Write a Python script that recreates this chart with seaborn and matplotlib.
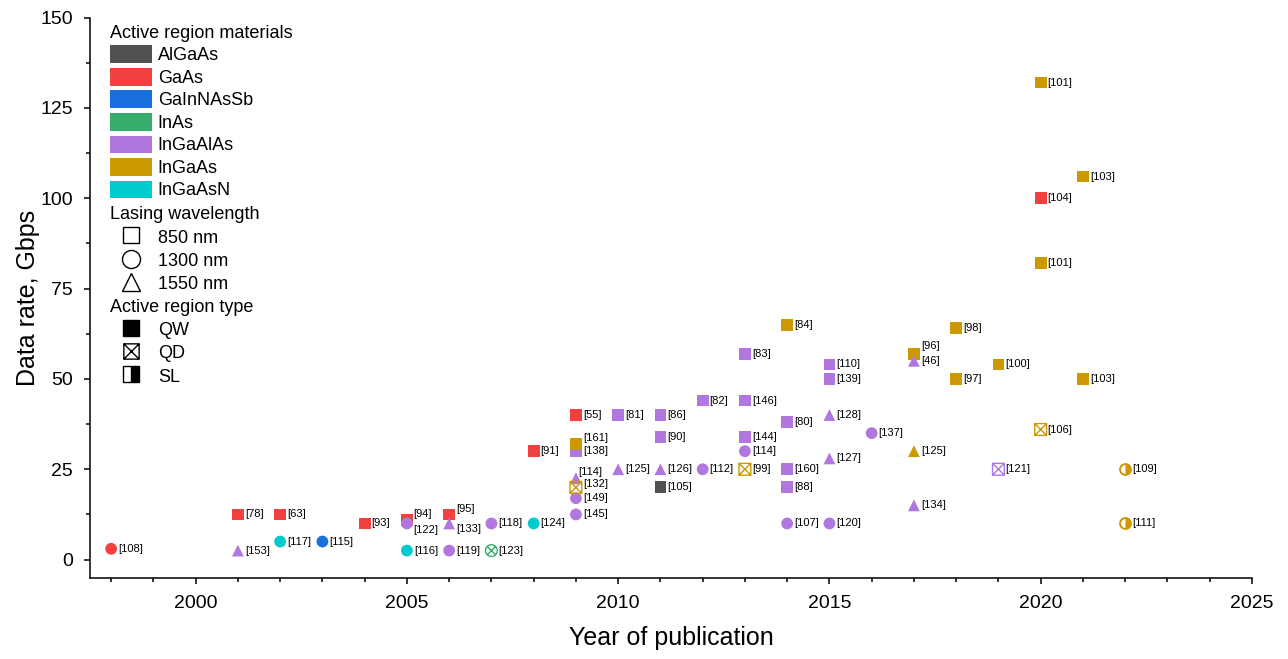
import numpy as np
import pandas as pd
import matplotlib
matplotlib.use("Agg")
import matplotlib.pyplot as plt
from matplotlib.path import Path
from matplotlib.markers import MarkerStyle
from matplotlib.patches import Patch
from matplotlib.lines import Line2D
from matplotlib.ticker import MultipleLocator
import seaborn as sns

# ---------------- data ----------------
years = [1998, 2001, 2001, 2002, 2002, 2003, 2004, 2005, 2005, 2005,
         2006, 2006, 2006, 2007, 2007, 2008, 2008, 2009, 2009, 2009,
         2009, 2009, 2009, 2009, 2010, 2010, 2011, 2011, 2011, 2011,
         2012, 2012, 2013, 2013, 2013, 2013, 2013, 2014, 2014, 2014,
         2014, 2014, 2015, 2015, 2015, 2015, 2015, 2016, 2017, 2017,
         2017, 2017, 2018, 2018, 2019, 2019, 2020, 2020, 2020, 2020,
         2021, 2021, 2022, 2022]
rates = [3, 12.5, 2.5, 12.5, 5, 5, 10, 11, 10, 2.5,
         12.5, 10, 2.5, 10, 2.5, 10, 30, 40, 30, 32,
         22.5, 20, 17, 12.5, 40, 25, 40, 34, 25, 20,
         44, 25, 57, 44, 34, 30, 25, 65, 38, 25,
         20, 10, 54, 50, 40, 28, 10, 35, 57, 55,
         30, 15, 64, 50, 54, 25, 132, 100, 82, 36,
         106, 50, 25, 10]
materials = ["GaAs", "GaAs", "InGaAlAs", "GaAs", "InGaAsN", "GaInNAsSb", "GaAs", "GaAs", "InGaAlAs", "InGaAsN",
             "GaAs", "InGaAlAs", "InGaAlAs", "InGaAlAs", "InAs", "InGaAsN", "GaAs", "GaAs", "InGaAlAs", "InGaAs",
             "InGaAlAs", "InGaAs", "InGaAlAs", "InGaAlAs", "InGaAlAs", "InGaAlAs", "InGaAlAs", "InGaAlAs", "InGaAlAs", "AlGaAs",
             "InGaAlAs", "InGaAlAs", "InGaAlAs", "InGaAlAs", "InGaAlAs", "InGaAlAs", "InGaAs", "InGaAs", "InGaAlAs", "InGaAlAs",
             "InGaAlAs", "InGaAlAs", "InGaAlAs", "InGaAlAs", "InGaAlAs", "InGaAlAs", "InGaAlAs", "InGaAlAs", "InGaAs", "InGaAlAs",
             "InGaAs", "InGaAlAs", "InGaAs", "InGaAs", "InGaAs", "InGaAlAs", "InGaAs", "GaAs", "InGaAs", "InGaAs",
             "InGaAs", "InGaAs", "InGaAs", "InGaAs"]
wavelengths = ["1300 nm", "850 nm", "1550 nm", "850 nm", "1300 nm", "1300 nm", "850 nm", "850 nm", "1300 nm", "1300 nm",
               "850 nm", "1550 nm", "1300 nm", "1300 nm", "1300 nm", "1300 nm", "850 nm", "850 nm", "850 nm", "850 nm",
               "1550 nm", "850 nm", "1300 nm", "1300 nm", "850 nm", "1550 nm", "850 nm", "850 nm", "1550 nm", "850 nm",
               "850 nm", "1300 nm", "850 nm", "850 nm", "850 nm", "1300 nm", "850 nm", "850 nm", "850 nm", "850 nm",
               "850 nm", "1300 nm", "850 nm", "850 nm", "1550 nm", "1550 nm", "1300 nm", "1300 nm", "850 nm", "1550 nm",
               "1550 nm", "1550 nm", "850 nm", "850 nm", "850 nm", "850 nm", "850 nm", "850 nm", "850 nm", "850 nm",
               "850 nm", "850 nm", "1300 nm", "1300 nm"]
region_types = ["QW", "QW", "QW", "QW", "QW", "QW", "QW", "QW", "QW", "QW",
                "QW", "QW", "QW", "QW", "QD", "QW", "QW", "QW", "QW", "QW",
                "QW", "QD", "QW", "QW", "QW", "QW", "QW", "QW", "QW", "QW",
                "QW", "QW", "QW", "QW", "QW", "QW", "QD", "QW", "QW", "QW",
                "QW", "QW", "QW", "QW", "QW", "QW", "QW", "QW", "QW", "QW",
                "QW", "QW", "QW", "QW", "QW", "QD", "QW", "QW", "QW", "QD",
                "QW", "QW", "SL", "SL"]
refs = ["[108]", "[78]", "[153]", "[63]", "[117]", "[115]", "[93]", "[94]", "[122]", "[116]",
        "[95]", "[133]", "[119]", "[118]", "[123]", "[124]", "[91]", "[55]", "[138]", "[161]",
        "[114]", "[132]", "[149]", "[145]", "[81]", "[125]", "[86]", "[90]", "[126]", "[105]",
        "[82]", "[112]", "[83]", "[146]", "[144]", "[114]", "[99]", "[84]", "[80]", "[160]",
        "[88]", "[107]", "[110]", "[139]", "[128]", "[127]", "[120]", "[137]", "[96]", "[46]",
        "[125]", "[134]", "[98]", "[97]", "[100]", "[121]", "[101]", "[104]", "[101]", "[106]",
        "[103]", "[103]", "[109]", "[111]"]

material_order = ["AlGaAs", "GaAs", "GaInNAsSb", "InAs", "InGaAlAs", "InGaAs", "InGaAsN"]
material_colors = ["#515151", "#F14040", "#1A6FDF", "#37AD6B", "#B177DE", "#CC9900", "#00CBCC"]
wavelength_order = ["850 nm", "1300 nm", "1550 nm"]
type_order = ["QW", "QD", "SL"]
x_ticks = [2000, 2005, 2010, 2015, 2020, 2025]
y_ticks = [0, 25, 50, 75, 100, 125, 150]

# label nudges (offset points) for crowded annotations: (ref, year) -> (dx, dy)
label_nudge = {("[94]", 2005): (4.7, 4.3), ("[122]", 2005): (4.7, -5.0),
               ("[95]", 2006): (5.0, 3.6), ("[133]", 2006): (5.0, -4.3),
               ("[161]", 2009): (5.0, 4.5), ("[114]", 2009): (1.4, 4.3),
               ("[132]", 2009): (5.0, 2.5), ("[96]", 2017): (5.5, 5.8)}

df = pd.DataFrame({"year": years, "rate": rates, "material": materials,
                   "wavelength": wavelengths, "rtype": region_types, "ref": refs})
palette = dict(zip(material_order, material_colors))

# ---------------- markers ----------------
sq_x = Path([(-1, -1), (1, -1), (1, 1), (-1, 1), (-1, -1), (-1, -1), (1, 1), (-1, 1), (1, -1)],
            [Path.MOVETO, Path.LINETO, Path.LINETO, Path.LINETO, Path.CLOSEPOLY,
             Path.MOVETO, Path.LINETO, Path.MOVETO, Path.LINETO])
d = np.sqrt(0.5)
circ_x = Path.make_compound_path(Path.unit_circle(),
                                 Path([(-d, -d), (d, d)]), Path([(-d, d), (d, -d)]))
filled_markers = {"850 nm": "s", "1300 nm": "o", "1550 nm": "^"}
qd_markers = {"850 nm": sq_x, "1300 nm": circ_x}

# ---------------- figure ----------------
sns.set_style("ticks")
plt.rcParams["font.family"] = ["Liberation Sans", "DejaVu Sans"]
plt.rcParams["axes.edgecolor"] = "black"
plt.rcParams["axes.labelcolor"] = "black"
plt.rcParams["text.color"] = "black"
plt.rcParams["xtick.color"] = "black"
plt.rcParams["ytick.color"] = "black"

fig = plt.figure(figsize=(12.88, 6.59), dpi=100)
ax = fig.add_axes([0.0699, 0.1234, 0.9021, 0.85])

S = 72
qw = df[df.rtype == "QW"]
sns.scatterplot(data=qw, x="year", y="rate", hue="material", palette=palette,
                style="wavelength", markers=filled_markers, s=S, linewidth=0,
                legend=False, ax=ax, zorder=3)

qd = df[df.rtype == "QD"]
sns.scatterplot(data=qd, x="year", y="rate", hue="material", palette=palette,
                style="wavelength", markers=qd_markers, s=S, legend=False, ax=ax, zorder=3)
coll = ax.collections[-1]
coll.set_edgecolors(coll.get_facecolors())
coll.set_facecolor("none")
coll.set_linewidth(1.0)

sl = df[df.rtype == "SL"]
gold = palette["InGaAs"]
sns.scatterplot(data=sl, x="year", y="rate", marker="o", s=S * 0.85, facecolor="white",
                edgecolor=gold, linewidth=1.4, legend=False, ax=ax, zorder=3)
sns.scatterplot(data=sl, x="year", y="rate", marker=MarkerStyle("o", fillstyle="right"),
                s=S * 0.85, color=gold, linewidth=0, legend=False, ax=ax, zorder=4)

for _, r in df.iterrows():
    dx, dy = label_nudge.get((r["ref"], r["year"]), (5.0, 0.0))
    ax.annotate(r["ref"], (r["year"], r["rate"]), xytext=(dx, dy),
                textcoords="offset points", ha="left", va="center",
                fontsize=8, color="black", zorder=5)

# ---------------- axes ----------------
ax.set_xlim(1997.5, 2025)
ax.set_ylim(-5, 150)
ax.set_xticks(x_ticks)
ax.set_yticks(y_ticks)
ax.xaxis.set_minor_locator(MultipleLocator(1))
ax.yaxis.set_minor_locator(MultipleLocator(12.5))
ax.tick_params(which="major", direction="out", length=4.5, width=1.1, labelsize=14, pad=8)
ax.tick_params(which="minor", direction="out", length=2.8, width=1.1)
ax.set_xlabel("Year of publication", fontsize=18, labelpad=10)
ax.set_ylabel("Data rate, Gbps", fontsize=18, labelpad=0)
sns.despine(ax=ax)
for sp in ["left", "bottom"]:
    ax.spines[sp].set_linewidth(1.1)

# ---------------- legends ----------------
common = dict(loc="upper left", frameon=False, fontsize=13, title_fontsize=13,
              alignment="left", borderpad=0, borderaxespad=0, handlelength=2.35,
              handleheight=1.12, handletextpad=0.3, labelspacing=0.2)
x0 = 0.0172
h1 = [Patch(facecolor=c, edgecolor="none") for c in material_colors]
leg1 = ax.legend(handles=h1, labels=material_order, title="Active region materials",
                 bbox_to_anchor=(x0, 0.987), **common)
ax.add_artist(leg1)

wl_shapes = {"850 nm": ("s", 11), "1300 nm": ("o", 13), "1550 nm": ("^", 13)}
h2 = [Line2D([0], [0], marker=wl_shapes[w][0], ms=wl_shapes[w][1], ls="none",
             mfc="none", mec="black", mew=1.0) for w in wavelength_order]
h3 = [Line2D([0], [0], marker="s", ms=11, ls="none", mfc="black", mec="black"),
      Line2D([0], [0], marker=sq_x, ms=11, ls="none", mfc="none", mec="black", mew=1.0),
      Line2D([0], [0], marker="s", ms=11, ls="none", fillstyle="right", mfc="black",
             mfcalt="white", mec="black", mew=1.0)]

leg_common2 = dict(common, labelspacing=0.24)
fig.canvas.draw()
inv = ax.transAxes.inverted()
gap = 7.0 / 562
bb1 = leg1.get_window_extent().transformed(inv)
leg2 = ax.legend(handles=h2, labels=wavelength_order, title="Lasing wavelength",
                 bbox_to_anchor=(x0, bb1.y0 - gap), **leg_common2)
ax.add_artist(leg2)
fig.canvas.draw()
bb2 = leg2.get_window_extent().transformed(inv)
leg3 = ax.legend(handles=h3, labels=type_order, title="Active region type",
                 bbox_to_anchor=(x0, bb2.y0 - gap * 0.8), **leg_common2)

fig.savefig("out.png", dpi=100)
